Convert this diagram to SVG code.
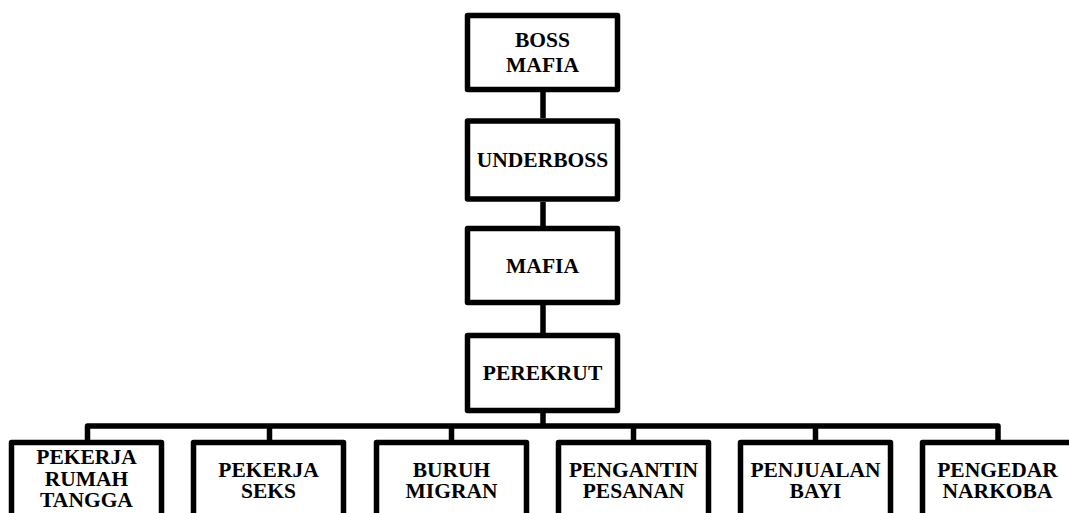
<svg xmlns="http://www.w3.org/2000/svg" width="1069" height="513" viewBox="0 0 1069 513">
<style>
.box{fill:#fff;stroke:#000;stroke-width:5.5;stroke-linejoin:round}
.con{fill:none;stroke:#000;stroke-width:5.5;stroke-linejoin:round}
text{font-family:"Liberation Serif","Times New Roman",serif;font-weight:bold;font-size:21.5px;text-anchor:middle;fill:#000}
</style>
<rect width="1069" height="513" fill="#fff"/>
<g id="connectors">
<path class="con" d="M543 92V118M543 202V226M543 305V333M543 413V426"/>
<path class="con" d="M87.5 440V426H998V440M269.5 426V440M451.5 426V440M633.5 426V440M815.5 426V440"/>
</g>
<g id="boss-mafia">
<rect class="box" x="467.5" y="15.5" width="150" height="74"/>
<text x="542.5" y="46.5">BOSS</text>
<text x="542.5" y="71.5">MAFIA</text>
</g>
<g id="underboss">
<rect class="box" x="467.5" y="121" width="150" height="78"/>
<text x="542.5" y="167">UNDERBOSS</text>
</g>
<g id="mafia">
<rect class="box" x="467.5" y="228.5" width="150" height="74"/>
<text x="542.5" y="273">MAFIA</text>
</g>
<g id="perekrut">
<rect class="box" x="467.5" y="335.5" width="150" height="75"/>
<text x="542.5" y="380">PEREKRUT</text>
</g>
<g id="pekerja-rumah-tangga">
<rect class="box" x="11.5" y="442.5" width="150" height="100"/>
<text x="86.5" y="464">PEKERJA</text>
<text x="86.5" y="485.5">RUMAH</text>
<text x="86.5" y="507">TANGGA</text>
</g>
<g id="pekerja-seks">
<rect class="box" x="193.5" y="442.5" width="150" height="100"/>
<text x="268.5" y="476.5">PEKERJA</text>
<text x="268.5" y="497.5">SEKS</text>
</g>
<g id="buruh-migran">
<rect class="box" x="376.5" y="442.5" width="150" height="100"/>
<text x="451.5" y="476.5">BURUH</text>
<text x="451.5" y="497.5">MIGRAN</text>
</g>
<g id="pengantin-pesanan">
<rect class="box" x="558.5" y="442.5" width="150" height="100"/>
<text x="633.5" y="476.5">PENGANTIN</text>
<text x="633.5" y="497.5">PESANAN</text>
</g>
<g id="penjualan-bayi">
<rect class="box" x="740.5" y="442.5" width="150" height="100"/>
<text x="815.5" y="476.5">PENJUALAN</text>
<text x="815.5" y="497.5">BAYI</text>
</g>
<g id="pengedar-narkoba">
<rect class="box" x="922.5" y="442.5" width="150" height="100"/>
<text x="997.5" y="476.5">PENGEDAR</text>
<text x="997.5" y="497.5">NARKOBA</text>
</g>
</svg>
